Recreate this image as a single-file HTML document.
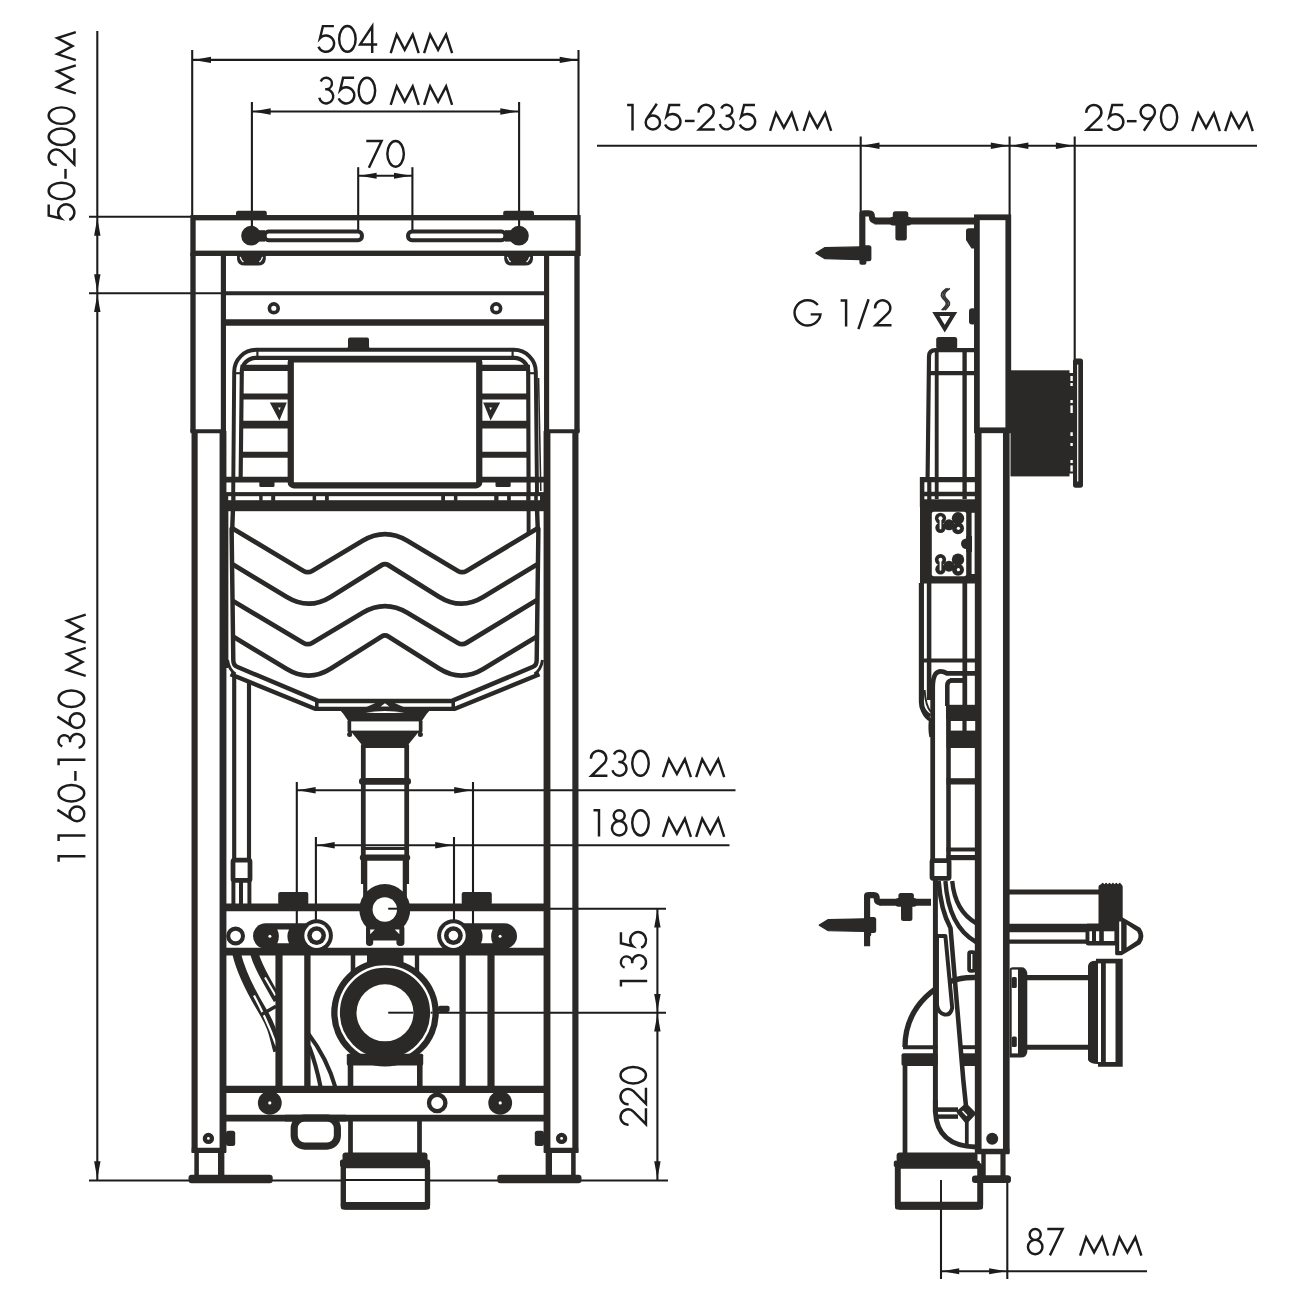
<!DOCTYPE html>
<html><head><meta charset="utf-8"><title>Installation frame drawing</title>
<style>html,body{margin:0;padding:0;background:#fff;font-family:"Liberation Sans",sans-serif}svg{display:block}</style></head>
<body><svg width="1300" height="1300" viewBox="0 0 1300 1300">
<rect width="1300" height="1300" fill="#fff"/>
<path d="M192.2 50L192.2 216" stroke="#1c1c1c" stroke-width="2.1" fill="none" stroke-linecap="butt"/>
<path d="M578.5 50L578.5 216" stroke="#1c1c1c" stroke-width="2.1" fill="none" stroke-linecap="butt"/>
<path d="M192.2 59.9L578.5 59.9" stroke="#1c1c1c" stroke-width="2.1" fill="none" stroke-linecap="butt"/>
<path d="M193.4 59.9L211 56.7L211 63.1Z" fill="#1c1c1c" stroke="none" stroke-width="0" stroke-linejoin="round" stroke-linecap="butt" />
<path d="M577.3 59.9L559.7 63.1L559.7 56.7Z" fill="#1c1c1c" stroke="none" stroke-width="0" stroke-linejoin="round" stroke-linecap="butt" />
<path d="M251.9 102L251.9 232" stroke="#1c1c1c" stroke-width="2.1" fill="none" stroke-linecap="butt"/>
<path d="M519.1 102L519.1 232" stroke="#1c1c1c" stroke-width="2.1" fill="none" stroke-linecap="butt"/>
<path d="M251.9 111.5L519.1 111.5" stroke="#1c1c1c" stroke-width="2.1" fill="none" stroke-linecap="butt"/>
<path d="M253.1 111.5L270.7 108.3L270.7 114.7Z" fill="#1c1c1c" stroke="none" stroke-width="0" stroke-linejoin="round" stroke-linecap="butt" />
<path d="M517.9 111.5L500.3 114.7L500.3 108.3Z" fill="#1c1c1c" stroke="none" stroke-width="0" stroke-linejoin="round" stroke-linecap="butt" />
<path d="M358.2 167.2L358.2 230.5" stroke="#1c1c1c" stroke-width="2.1" fill="none" stroke-linecap="butt"/>
<path d="M412.4 167.2L412.4 230.5" stroke="#1c1c1c" stroke-width="2.1" fill="none" stroke-linecap="butt"/>
<path d="M358.2 175.7L412.4 175.7" stroke="#1c1c1c" stroke-width="2.1" fill="none" stroke-linecap="butt"/>
<path d="M359.6 175.7L376.6 172.7L376.6 178.7Z" fill="#1c1c1c" stroke="none" stroke-width="0" stroke-linejoin="round" stroke-linecap="butt" />
<path d="M411 175.7L394 178.7L394 172.7Z" fill="#1c1c1c" stroke="none" stroke-width="0" stroke-linejoin="round" stroke-linecap="butt" />
<path d="M97.3 31L97.3 1180" stroke="#1c1c1c" stroke-width="2.1" fill="none" stroke-linecap="butt"/>
<path d="M89 216.8L192 216.8" stroke="#1c1c1c" stroke-width="2.1" fill="none" stroke-linecap="butt"/>
<path d="M89 293.2L221 293.2" stroke="#1c1c1c" stroke-width="2.1" fill="none" stroke-linecap="butt"/>
<path d="M89 1180.5L668 1180.5" stroke="#1c1c1c" stroke-width="2.1" fill="none" stroke-linecap="butt"/>
<path d="M97.3 218.1L100.5 235.7L94.1 235.7Z" fill="#1c1c1c" stroke="none" stroke-width="0" stroke-linejoin="round" stroke-linecap="butt" />
<path d="M97.3 291.9L94.1 274.3L100.5 274.3Z" fill="#1c1c1c" stroke="none" stroke-width="0" stroke-linejoin="round" stroke-linecap="butt" />
<path d="M97.3 294.5L100.5 312.1L94.1 312.1Z" fill="#1c1c1c" stroke="none" stroke-width="0" stroke-linejoin="round" stroke-linecap="butt" />
<path d="M97.3 1178.8L94.1 1161.2L100.5 1161.2Z" fill="#1c1c1c" stroke="none" stroke-width="0" stroke-linejoin="round" stroke-linecap="butt" />
<path d="M296.8 782L296.8 924" stroke="#1c1c1c" stroke-width="2.1" fill="none" stroke-linecap="butt"/>
<path d="M473 782L473 924" stroke="#1c1c1c" stroke-width="2.1" fill="none" stroke-linecap="butt"/>
<path d="M296.8 790.2L735.5 790.2" stroke="#1c1c1c" stroke-width="2.1" fill="none" stroke-linecap="butt"/>
<path d="M298 790.2L315.6 787L315.6 793.4Z" fill="#1c1c1c" stroke="none" stroke-width="0" stroke-linejoin="round" stroke-linecap="butt" />
<path d="M471.8 790.2L454.2 793.4L454.2 787Z" fill="#1c1c1c" stroke="none" stroke-width="0" stroke-linejoin="round" stroke-linecap="butt" />
<path d="M315.9 837L315.9 937" stroke="#1c1c1c" stroke-width="2.1" fill="none" stroke-linecap="butt"/>
<path d="M454 837L454 937" stroke="#1c1c1c" stroke-width="2.1" fill="none" stroke-linecap="butt"/>
<path d="M315.9 845.3L729.5 845.3" stroke="#1c1c1c" stroke-width="2.1" fill="none" stroke-linecap="butt"/>
<path d="M317.1 845.3L334.7 842.1L334.7 848.5Z" fill="#1c1c1c" stroke="none" stroke-width="0" stroke-linejoin="round" stroke-linecap="butt" />
<path d="M452.8 845.3L435.2 848.5L435.2 842.1Z" fill="#1c1c1c" stroke="none" stroke-width="0" stroke-linejoin="round" stroke-linecap="butt" />
<path d="M657.4 908.7L657.4 1180" stroke="#1c1c1c" stroke-width="2.1" fill="none" stroke-linecap="butt"/>
<path d="M385 908.7L666 908.7" stroke="#1c1c1c" stroke-width="2.1" fill="none" stroke-linecap="butt"/>
<path d="M388 1012.7L666 1012.7" stroke="#1c1c1c" stroke-width="2.1" fill="none" stroke-linecap="butt"/>
<path d="M657.4 909.9L660.6 927.5L654.2 927.5Z" fill="#1c1c1c" stroke="none" stroke-width="0" stroke-linejoin="round" stroke-linecap="butt" />
<path d="M657.4 1011.5L654.2 993.9L660.6 993.9Z" fill="#1c1c1c" stroke="none" stroke-width="0" stroke-linejoin="round" stroke-linecap="butt" />
<path d="M657.4 1013.9L660.6 1031.5L654.2 1031.5Z" fill="#1c1c1c" stroke="none" stroke-width="0" stroke-linejoin="round" stroke-linecap="butt" />
<path d="M657.4 1178.8L654.2 1161.2L660.6 1161.2Z" fill="#1c1c1c" stroke="none" stroke-width="0" stroke-linejoin="round" stroke-linecap="butt" />
<path d="M597 145.8L1257 145.8" stroke="#1c1c1c" stroke-width="2.1" fill="none" stroke-linecap="butt"/>
<path d="M860.7 136.5L860.7 213" stroke="#1c1c1c" stroke-width="2.1" fill="none" stroke-linecap="butt"/>
<path d="M1009.6 136.5L1009.6 216" stroke="#1c1c1c" stroke-width="2.1" fill="none" stroke-linecap="butt"/>
<path d="M1074.7 136.5L1074.7 359" stroke="#1c1c1c" stroke-width="2.1" fill="none" stroke-linecap="butt"/>
<path d="M861.9 145.8L879.5 142.6L879.5 149Z" fill="#1c1c1c" stroke="none" stroke-width="0" stroke-linejoin="round" stroke-linecap="butt" />
<path d="M1008.4 145.8L990.8 149L990.8 142.6Z" fill="#1c1c1c" stroke="none" stroke-width="0" stroke-linejoin="round" stroke-linecap="butt" />
<path d="M1010.8 145.8L1028.4 142.6L1028.4 149Z" fill="#1c1c1c" stroke="none" stroke-width="0" stroke-linejoin="round" stroke-linecap="butt" />
<path d="M1073.5 145.8L1055.9 149L1055.9 142.6Z" fill="#1c1c1c" stroke="none" stroke-width="0" stroke-linejoin="round" stroke-linecap="butt" />
<path d="M941 1271.3L1147 1271.3" stroke="#1c1c1c" stroke-width="2.1" fill="none" stroke-linecap="butt"/>
<path d="M941 1180L941 1279" stroke="#1c1c1c" stroke-width="2.1" fill="none" stroke-linecap="butt"/>
<path d="M1007.3 1183L1007.3 1279" stroke="#1c1c1c" stroke-width="2.1" fill="none" stroke-linecap="butt"/>
<path d="M942.2 1271.3L959.2 1268.3L959.2 1274.3Z" fill="#1c1c1c" stroke="none" stroke-width="0" stroke-linejoin="round" stroke-linecap="butt" />
<path d="M1006.1 1271.3L989.1 1274.3L989.1 1268.3Z" fill="#1c1c1c" stroke="none" stroke-width="0" stroke-linejoin="round" stroke-linecap="butt" />
<path d="M232.9 511L232.3 527L231.6 529L233.3 660Q233.3 665.3 237 666.8L318 700.9H452L533 666.8Q536.7 665.3 536.7 660L538.4 529L537.7 527L537.1 511" fill="#fff" stroke="#2a2927" stroke-width="4.45" stroke-linejoin="round" stroke-linecap="butt" />
<path d="M227.2 511L227.2 668" stroke="#2a2927" stroke-width="2.35" fill="none" stroke-linecap="butt"/>
<path d="M528.6 510L528.6 533" stroke="#2a2927" stroke-width="3.95" fill="none" stroke-linecap="butt"/>
<path d="M230.5 674.3L315 708.8H455L539.5 674.3" fill="none" stroke="#2a2927" stroke-width="4.35" stroke-linejoin="round" stroke-linecap="butt" />
<path d="M316.8 700V709.5" fill="none" stroke="#2a2927" stroke-width="3.55" stroke-linejoin="round" stroke-linecap="butt" />
<path d="M227.5 660Q229 670 235.5 674" fill="none" stroke="#2a2927" stroke-width="2.95" stroke-linejoin="round" stroke-linecap="butt" />
<path d="M453.2 700V709.5" fill="none" stroke="#2a2927" stroke-width="3.55" stroke-linejoin="round" stroke-linecap="butt" />
<path d="M542.5 660Q541 670 534.5 674" fill="none" stroke="#2a2927" stroke-width="2.95" stroke-linejoin="round" stroke-linecap="butt" />
<path d="M231 527.5L303.51 570.93Q307.8 573.5 312.1 570.94L362.66 540.81Q385 527.5 407.34 540.81L457.9 570.94Q462.2 573.5 466.49 570.93L539 527.5" fill="none" stroke="#2a2927" stroke-width="4.75" stroke-linejoin="round" stroke-linecap="butt" />
<path d="M233 564.5L286.76 597.04Q309 610.5 331.05 596.72L381.61 565.12Q385 563 388.39 565.12L438.95 596.72Q461 610.5 483.24 597.04L537 564.5" fill="none" stroke="#2a2927" stroke-width="4.75" stroke-linejoin="round" stroke-linecap="butt" />
<path d="M233 601L303.5 642.94Q307.8 645.5 312.1 642.94L362.66 612.81Q385 599.5 407.34 612.81L457.9 642.94Q462.2 645.5 466.47 642.9L537 600" fill="none" stroke="#2a2927" stroke-width="4.75" stroke-linejoin="round" stroke-linecap="butt" />
<path d="M233 636.5L286.76 669.04Q309 682.5 330.96 668.57L381.62 636.44Q385 634.3 388.38 636.44L439.04 668.57Q461 682.5 483.24 669.04L537 636.5" fill="none" stroke="#2a2927" stroke-width="4.75" stroke-linejoin="round" stroke-linecap="butt" />
<path d="M234.2 676L234.2 860" stroke="#2a2927" stroke-width="4.15" fill="none" stroke-linecap="butt"/>
<path d="M249 682L249 860" stroke="#2a2927" stroke-width="4.15" fill="none" stroke-linecap="butt"/>
<rect x="233" y="860.2" width="17" height="20.2" fill="#fff" stroke="#2a2927" stroke-width="4.75" rx="1.5"/>
<path d="M233.4 882L233.4 904" stroke="#2a2927" stroke-width="3.95" fill="none" stroke-linecap="butt"/>
<path d="M241 882L241 904" stroke="#2a2927" stroke-width="3.95" fill="none" stroke-linecap="butt"/>
<path d="M249.4 882L249.4 904" stroke="#2a2927" stroke-width="3.95" fill="none" stroke-linecap="butt"/>
<path d="M236.7 954C241 972 250 990 262 1010S273 1036 277.5 1051" fill="none" stroke="#2a2927" stroke-width="8.55" stroke-linejoin="round" stroke-linecap="butt" />
<path d="M254 995.4C258 1003 268 1022 276.5 1046" fill="none" stroke="#fff" stroke-width="2.2" stroke-linejoin="round" stroke-linecap="butt" />
<path d="M254.5 954C258 966 265 978 277.5 1000" fill="none" stroke="#2a2927" stroke-width="8.35" stroke-linejoin="round" stroke-linecap="butt" />
<path d="M265 977.5L275.5 995.5" fill="none" stroke="#fff" stroke-width="2" stroke-linejoin="round" stroke-linecap="butt" />
<path d="M260.7 1015L276 1006.3" fill="none" stroke="#2a2927" stroke-width="3.55" stroke-linejoin="round" stroke-linecap="butt" />
<path d="M309 1046Q316 1064 320.8 1088" fill="none" stroke="#2a2927" stroke-width="4.15" stroke-linejoin="round" stroke-linecap="butt" />
<path d="M308.5 1034Q327 1058 335.6 1088" fill="none" stroke="#2a2927" stroke-width="4.15" stroke-linejoin="round" stroke-linecap="butt" />
<rect x="193" y="217.7" width="385" height="35.6" fill="none" stroke="#2a2927" stroke-width="5.35" rx="0"/>
<path d="M193 253L193 432" stroke="#2a2927" stroke-width="5.35" fill="none" stroke-linecap="butt"/>
<path d="M223.4 253L223.4 432" stroke="#2a2927" stroke-width="5.15" fill="none" stroke-linecap="butt"/>
<path d="M190.5 431.3L225.8 431.3" stroke="#2a2927" stroke-width="3.95" fill="none" stroke-linecap="butt"/>
<path d="M194.6 431L194.6 1152.6" stroke="#2a2927" stroke-width="6.15" fill="none" stroke-linecap="butt"/>
<path d="M223 431L223 1152.6" stroke="#2a2927" stroke-width="6.85" fill="none" stroke-linecap="butt"/>
<path d="M191.7 1150.3L226 1150.3" stroke="#2a2927" stroke-width="5.35" fill="none" stroke-linecap="butt"/>
<path d="M196.6 1152L196.6 1177" stroke="#2a2927" stroke-width="4.55" fill="none" stroke-linecap="butt"/>
<path d="M221.2 1152L221.2 1177" stroke="#2a2927" stroke-width="6.35" fill="none" stroke-linecap="butt"/>
<rect x="188.5" y="1174.8" width="84.2" height="8.5" fill="#2a2927" stroke="none" stroke-width="0" rx="3"/>
<circle cx="208.4" cy="1138.4" r="3.55" fill="#fff" stroke="#2a2927" stroke-width="4.25"/>
<rect x="226" y="1130.8" width="9.2" height="15.2" fill="#2a2927" stroke="none" stroke-width="0" rx="2.5"/>
<path d="M577 253L577 432" stroke="#2a2927" stroke-width="5.35" fill="none" stroke-linecap="butt"/>
<path d="M546.6 253L546.6 432" stroke="#2a2927" stroke-width="5.15" fill="none" stroke-linecap="butt"/>
<path d="M579.5 431.3L544.2 431.3" stroke="#2a2927" stroke-width="3.95" fill="none" stroke-linecap="butt"/>
<path d="M575.4 431L575.4 1152.6" stroke="#2a2927" stroke-width="6.15" fill="none" stroke-linecap="butt"/>
<path d="M547 431L547 1152.6" stroke="#2a2927" stroke-width="6.85" fill="none" stroke-linecap="butt"/>
<path d="M578.3 1150.3L544 1150.3" stroke="#2a2927" stroke-width="5.35" fill="none" stroke-linecap="butt"/>
<path d="M573.4 1152L573.4 1177" stroke="#2a2927" stroke-width="4.55" fill="none" stroke-linecap="butt"/>
<path d="M548.8 1152L548.8 1177" stroke="#2a2927" stroke-width="6.35" fill="none" stroke-linecap="butt"/>
<rect x="497.3" y="1174.8" width="84.2" height="8.5" fill="#2a2927" stroke="none" stroke-width="0" rx="3"/>
<circle cx="561.6" cy="1138.4" r="3.55" fill="#fff" stroke="#2a2927" stroke-width="4.25"/>
<rect x="534.8" y="1130.8" width="9.2" height="15.2" fill="#2a2927" stroke="none" stroke-width="0" rx="2.5"/>
<path d="M223 293.2L547 293.2" stroke="#2a2927" stroke-width="4.15" fill="none" stroke-linecap="butt"/>
<path d="M223 322.4L547 322.4" stroke="#2a2927" stroke-width="6.55" fill="none" stroke-linecap="butt"/>
<circle cx="273.8" cy="308.3" r="4.4" fill="#fff" stroke="#2a2927" stroke-width="3.65"/>
<circle cx="496.2" cy="308.3" r="4.4" fill="#fff" stroke="#2a2927" stroke-width="3.65"/>
<rect x="264.65" y="231.45" width="97.3" height="8.9" fill="#fff" stroke="#2a2927" stroke-width="4.05" rx="4"/>
<rect x="256" y="230.2" width="9" height="11.4" fill="#2a2927" stroke="none" stroke-width="0" rx="0"/>
<circle cx="251.1" cy="235.7" r="9.9" fill="#2a2927" stroke="none" stroke-width="0"/>
<path d="M236 216.5V212.8Q236 210.8 238 210.8H264.8Q266.8 210.8 266.8 212.8V216.5Z" fill="#2a2927" stroke="none" stroke-width="4" stroke-linejoin="round" stroke-linecap="butt" />
<path d="M237 255V259Q237.5 265.6 245 265.6H257.8Q265.3 265.6 265.8 259V255Z" fill="#2a2927" stroke="none" stroke-width="4" stroke-linejoin="round" stroke-linecap="butt" />
<path d="M240.4 257.3Q241.2 260.3 243 261.6" fill="none" stroke="#fff" stroke-width="1.3" stroke-linejoin="round" stroke-linecap="round" />
<path d="M262.4 257.3Q261.6 260.3 259.8 261.6" fill="none" stroke="#fff" stroke-width="1.3" stroke-linejoin="round" stroke-linecap="round" />
<rect x="408.05" y="231.45" width="97.3" height="8.9" fill="#fff" stroke="#2a2927" stroke-width="4.05" rx="4"/>
<rect x="505" y="230.2" width="9" height="11.4" fill="#2a2927" stroke="none" stroke-width="0" rx="0"/>
<circle cx="518.9" cy="235.7" r="9.9" fill="#2a2927" stroke="none" stroke-width="0"/>
<path d="M503.2 216.5V212.8Q503.2 210.8 505.2 210.8H532Q534 210.8 534 212.8V216.5Z" fill="#2a2927" stroke="none" stroke-width="4" stroke-linejoin="round" stroke-linecap="butt" />
<path d="M504.2 255V259Q504.7 265.6 512.2 265.6H525Q532.5 265.6 533 259V255Z" fill="#2a2927" stroke="none" stroke-width="4" stroke-linejoin="round" stroke-linecap="butt" />
<path d="M507.6 257.3Q508.4 260.3 510.2 261.6" fill="none" stroke="#fff" stroke-width="1.3" stroke-linejoin="round" stroke-linecap="round" />
<path d="M529.6 257.3Q528.8 260.3 527 261.6" fill="none" stroke="#fff" stroke-width="1.3" stroke-linejoin="round" stroke-linecap="round" />
<path d="M233.2 493L234.2 372A22 22 0 0 1 256.2 349.8H513.8A22 22 0 0 1 535.8 372L537 493" fill="#fff" stroke="#2a2927" stroke-width="3.95" stroke-linejoin="round" stroke-linecap="butt" />
<path d="M345 349.8Q348 349 348 346V339.5Q348 337.4 350 337.4H367Q369 337.4 369 339.5V346Q369 349 372 349.8Z" fill="#2a2927" stroke="none" stroke-width="4" stroke-linejoin="round" stroke-linecap="butt" />
<path d="M538.6 378L540.8 491" fill="none" stroke="#2a2927" stroke-width="1.55" stroke-linejoin="round" stroke-linecap="butt" />
<path d="M240.6 482L241.8 372A14 14 0 0 1 255.8 357.8H514.2A14 14 0 0 1 528.2 372L528.6 493" fill="none" stroke="#2a2927" stroke-width="4.15" stroke-linejoin="round" stroke-linecap="butt" />
<path d="M235 373.2L241.5 373.2" stroke="#2a2927" stroke-width="2.15" fill="none" stroke-linecap="butt"/>
<path d="M528.5 373.2L535 373.2" stroke="#2a2927" stroke-width="2.15" fill="none" stroke-linecap="butt"/>
<path d="M257.4 351L257.4 357" stroke="#2a2927" stroke-width="2.15" fill="none" stroke-linecap="butt"/>
<path d="M512.6 351L512.6 357" stroke="#2a2927" stroke-width="2.15" fill="none" stroke-linecap="butt"/>
<path d="M240.5 367.9L288 367.9" stroke="#2a2927" stroke-width="6.15" fill="none" stroke-linecap="butt"/>
<path d="M481 367.9L530 367.9" stroke="#2a2927" stroke-width="6.15" fill="none" stroke-linecap="butt"/>
<path d="M240.5 396.5L288 396.5" stroke="#2a2927" stroke-width="6.15" fill="none" stroke-linecap="butt"/>
<path d="M481 396.5L530 396.5" stroke="#2a2927" stroke-width="6.15" fill="none" stroke-linecap="butt"/>
<path d="M240.5 424.5L288 424.5" stroke="#2a2927" stroke-width="7.75" fill="none" stroke-linecap="butt"/>
<path d="M481 424.5L530 424.5" stroke="#2a2927" stroke-width="7.75" fill="none" stroke-linecap="butt"/>
<path d="M240.5 454.8L288 454.8" stroke="#2a2927" stroke-width="5.95" fill="none" stroke-linecap="butt"/>
<path d="M481 454.8L530 454.8" stroke="#2a2927" stroke-width="5.95" fill="none" stroke-linecap="butt"/>
<path d="M225 479.7L288 479.7" stroke="#2a2927" stroke-width="5.75" fill="none" stroke-linecap="butt"/>
<path d="M481 479.7L545 479.7" stroke="#2a2927" stroke-width="5.75" fill="none" stroke-linecap="butt"/>
<rect x="290.75" y="359.25" width="188.5" height="126" fill="#fff" stroke="#2a2927" stroke-width="6.25" rx="3"/>
<path d="M483.2 402.4L500.2 402.4L490.6 420.4Z" fill="#2a2927" stroke="none" stroke-width="0" stroke-linejoin="round" stroke-linecap="butt" />
<path d="M489.3 407.6L491.9 407.6L490.6 410.2Z" fill="#fff" stroke="none" stroke-width="0" stroke-linejoin="round" stroke-linecap="butt" />
<rect x="259.3" y="481" width="15.2" height="6" fill="#2a2927" stroke="none" stroke-width="0" rx="1.5"/>
<path d="M286.8 402.4L269.8 402.4L279.4 420.4Z" fill="#2a2927" stroke="none" stroke-width="0" stroke-linejoin="round" stroke-linecap="butt" />
<path d="M280.7 407.6L278.1 407.6L279.4 410.2Z" fill="#fff" stroke="none" stroke-width="0" stroke-linejoin="round" stroke-linecap="butt" />
<rect x="495.5" y="481" width="15.2" height="6" fill="#2a2927" stroke="none" stroke-width="0" rx="1.5"/>
<rect x="224" y="492.1" width="322" height="19.1" fill="#2a2927" stroke="none" stroke-width="0" rx="0"/>
<rect x="228.2" y="496.2" width="311.8" height="4" fill="#fff" stroke="none" stroke-width="0" rx="0"/>
<rect x="231.2" y="495.8" width="4.3" height="5" fill="#2a2927" stroke="none" stroke-width="0" rx="0"/>
<rect x="259.2" y="495.8" width="3.4" height="5" fill="#2a2927" stroke="none" stroke-width="0" rx="0"/>
<rect x="271.2" y="495.8" width="4" height="5" fill="#2a2927" stroke="none" stroke-width="0" rx="0"/>
<rect x="312.6" y="495.8" width="3.5" height="5" fill="#2a2927" stroke="none" stroke-width="0" rx="0"/>
<rect x="325" y="495.8" width="3.8" height="5" fill="#2a2927" stroke="none" stroke-width="0" rx="0"/>
<rect x="441.2" y="495.8" width="3.8" height="5" fill="#2a2927" stroke="none" stroke-width="0" rx="0"/>
<rect x="453.9" y="495.8" width="3.5" height="5" fill="#2a2927" stroke="none" stroke-width="0" rx="0"/>
<rect x="494.2" y="495.8" width="4.3" height="5" fill="#2a2927" stroke="none" stroke-width="0" rx="0"/>
<rect x="507.1" y="495.8" width="3.7" height="5" fill="#2a2927" stroke="none" stroke-width="0" rx="0"/>
<rect x="526.2" y="495.8" width="4.3" height="5" fill="#2a2927" stroke="none" stroke-width="0" rx="0"/>
<rect x="534.2" y="495.8" width="3.6" height="5" fill="#2a2927" stroke="none" stroke-width="0" rx="0"/>
<path d="M362 709L383.2 699.6L386.8 699.6L408 709Z" fill="#2a2927" stroke="none" stroke-width="0" stroke-linejoin="round" stroke-linecap="butt" />
<path d="M380.6 706.6L389.4 706.6L385 703.3Z" fill="#fff" stroke="none" stroke-width="0" stroke-linejoin="round" stroke-linecap="butt" />
<path d="M339.5 709.5H430.5Q426 714 422.5 720H347.5Q344 714 339.5 709.5Z" fill="#2a2927" stroke="none" stroke-width="4" stroke-linejoin="round" stroke-linecap="butt" />
<path d="M365.5 712.6Q385 709.6 404.5 712.6Q385 713.6 365.5 712.6Z" fill="#fff" stroke="none" stroke-width="4" stroke-linejoin="round" stroke-linecap="butt" />
<rect x="347.5" y="719.3" width="75" height="13.7" fill="#2a2927" stroke="none" stroke-width="0" rx="2"/>
<rect x="351.2" y="721.4" width="67.6" height="9.2" fill="#fff" stroke="none" stroke-width="0" rx="0"/>
<circle cx="349.6" cy="734.6" r="2.5" fill="#2a2927" stroke="none" stroke-width="0"/>
<circle cx="420.4" cy="734.6" r="2.5" fill="#2a2927" stroke="none" stroke-width="0"/>
<path d="M351.8 732.5L418.2 732.5L408.8 744L408.8 748L361.2 748L361.2 744Z" fill="#2a2927" stroke="none" stroke-width="0" stroke-linejoin="round" stroke-linecap="butt" />
<path d="M363.3 745L363.3 884" stroke="#2a2927" stroke-width="4.75" fill="none" stroke-linecap="butt"/>
<path d="M406.7 745L406.7 884" stroke="#2a2927" stroke-width="4.75" fill="none" stroke-linecap="butt"/>
<rect x="359" y="778.1" width="52" height="6.7" fill="#2a2927" stroke="none" stroke-width="0" rx="3.2"/>
<path d="M361.2 848.5L408.8 848.5" stroke="#2a2927" stroke-width="3.15" fill="none" stroke-linecap="butt"/>
<rect x="359.8" y="854.6" width="50.4" height="6.2" fill="#2a2927" stroke="none" stroke-width="0" rx="3"/>
<path d="M225 907.3L545 907.3" stroke="#2a2927" stroke-width="7.85" fill="none" stroke-linecap="butt"/>
<path d="M225 951.6L545 951.6" stroke="#2a2927" stroke-width="7.85" fill="none" stroke-linecap="butt"/>
<path d="M225 1089.4L545 1089.4" stroke="#2a2927" stroke-width="7.15" fill="none" stroke-linecap="butt"/>
<path d="M225 1118L545 1118" stroke="#2a2927" stroke-width="6.75" fill="none" stroke-linecap="butt"/>
<rect x="278.2" y="892" width="30.1" height="13" fill="#2a2927" stroke="none" stroke-width="0" rx="2"/>
<path d="M279 955L279 1086" stroke="#2a2927" stroke-width="7.15" fill="none" stroke-linecap="butt"/>
<path d="M307.4 955L307.4 1086" stroke="#2a2927" stroke-width="6.35" fill="none" stroke-linecap="butt"/>
<rect x="253" y="923.3" width="65" height="25.4" fill="#2a2927" stroke="none" stroke-width="0" rx="12.7"/>
<circle cx="316.6" cy="935.6" r="16.3" fill="#2a2927" stroke="none" stroke-width="0"/>
<circle cx="316.6" cy="935.6" r="12.3" fill="#fff" stroke="none" stroke-width="0"/>
<circle cx="316.6" cy="935.6" r="9.4" fill="#2a2927" stroke="none" stroke-width="0"/>
<circle cx="316.6" cy="935.6" r="4.8" fill="#fff" stroke="none" stroke-width="0"/>
<circle cx="269.9" cy="936.2" r="1.5" fill="#fff" stroke="none" stroke-width="0"/>
<path d="M277.3 929.5H289Q285.72 936.3 289 943.2H277.3Q280.58 936.3 277.3 929.5Z" fill="#fff" stroke="none" stroke-width="4" stroke-linejoin="round" stroke-linecap="butt" />
<circle cx="269.8" cy="1102.9" r="11.9" fill="#2a2927" stroke="none" stroke-width="0"/>
<circle cx="269.8" cy="1102.9" r="1.6" fill="#fff" stroke="none" stroke-width="0"/>
<rect x="461.7" y="892" width="30.1" height="13" fill="#2a2927" stroke="none" stroke-width="0" rx="2"/>
<path d="M491 955L491 1086" stroke="#2a2927" stroke-width="7.15" fill="none" stroke-linecap="butt"/>
<path d="M462.6 955L462.6 1086" stroke="#2a2927" stroke-width="6.35" fill="none" stroke-linecap="butt"/>
<rect x="452" y="923.3" width="65" height="25.4" fill="#2a2927" stroke="none" stroke-width="0" rx="12.7"/>
<circle cx="453.4" cy="935.6" r="16.3" fill="#2a2927" stroke="none" stroke-width="0"/>
<circle cx="453.4" cy="935.6" r="12.3" fill="#fff" stroke="none" stroke-width="0"/>
<circle cx="453.4" cy="935.6" r="9.4" fill="#2a2927" stroke="none" stroke-width="0"/>
<circle cx="453.4" cy="935.6" r="4.8" fill="#fff" stroke="none" stroke-width="0"/>
<circle cx="500.1" cy="936.2" r="1.5" fill="#fff" stroke="none" stroke-width="0"/>
<path d="M492.7 929.5H481Q484.28 936.3 481 943.2H492.7Q489.42 936.3 492.7 929.5Z" fill="#fff" stroke="none" stroke-width="4" stroke-linejoin="round" stroke-linecap="butt" />
<circle cx="500.2" cy="1102.9" r="11.9" fill="#2a2927" stroke="none" stroke-width="0"/>
<circle cx="500.2" cy="1102.9" r="1.6" fill="#fff" stroke="none" stroke-width="0"/>
<circle cx="235.6" cy="936" r="7.4" fill="#fff" stroke="#2a2927" stroke-width="4.05"/>
<circle cx="437.2" cy="1102.9" r="8.2" fill="#fff" stroke="#2a2927" stroke-width="4.35"/>
<rect x="294.2" y="1118" width="43.2" height="28.1" fill="#fff" stroke="#2a2927" stroke-width="7.15" rx="10.5"/>
<path d="M285 1118L346 1118" stroke="#2a2927" stroke-width="6.75" fill="none" stroke-linecap="butt"/>
<path d="M365.2 860L365.2 900" stroke="#2a2927" stroke-width="4.15" fill="none" stroke-linecap="butt"/>
<path d="M404.8 860L404.8 900" stroke="#2a2927" stroke-width="4.15" fill="none" stroke-linecap="butt"/>
<circle cx="384.8" cy="909.5" r="25.5" fill="#2a2927" stroke="none" stroke-width="0"/>
<circle cx="384.8" cy="909.5" r="12.2" fill="#fff" stroke="none" stroke-width="0"/>
<path d="M388.2 908.7L397 908.7" stroke="#1c1c1c" stroke-width="1.95" fill="none" stroke-linecap="butt"/>
<rect x="366" y="925" width="7.2" height="21" fill="#2a2927" stroke="none" stroke-width="0" rx="3.4"/>
<rect x="396.4" y="925" width="8" height="21" fill="#2a2927" stroke="none" stroke-width="0" rx="3.4"/>
<rect x="372" y="925" width="26" height="15.5" fill="#2a2927" stroke="none" stroke-width="0" rx="0"/>
<path d="M370.2 929.5L374.8 929.5L370.2 934.2Z" fill="#fff" stroke="none" stroke-width="0" stroke-linejoin="round" stroke-linecap="butt" />
<path d="M399.4 929.5L394.8 929.5L399.4 934.2Z" fill="#fff" stroke="none" stroke-width="0" stroke-linejoin="round" stroke-linecap="butt" />
<rect x="367" y="955" width="36.5" height="9" fill="#2a2927" stroke="none" stroke-width="0" rx="0"/>
<path d="M353 955L353 975" stroke="#2a2927" stroke-width="4.55" fill="none" stroke-linecap="butt"/>
<path d="M417 955L417 975" stroke="#2a2927" stroke-width="4.35" fill="none" stroke-linecap="butt"/>
<circle cx="385" cy="1012.8" r="53.8" fill="#2a2927" stroke="none" stroke-width="0"/>
<circle cx="385" cy="1012.8" r="46.3" fill="none" stroke="#fff" stroke-width="2.4"/>
<circle cx="385" cy="1012.8" r="28.5" fill="#fff" stroke="none" stroke-width="0"/>
<path d="M388.2 1012.7L413.4 1012.7" stroke="#1c1c1c" stroke-width="1.95" fill="none" stroke-linecap="butt"/>
<path d="M430.6 1012.7L432.6 1012.7" stroke="#1c1c1c" stroke-width="1.95" fill="none" stroke-linecap="butt"/>
<rect x="438" y="1005.8" width="11.6" height="6.1" fill="#2a2927" stroke="none" stroke-width="0" rx="2"/>
<rect x="346.8" y="1053.8" width="76.4" height="11.8" fill="#2a2927" stroke="none" stroke-width="0" rx="1.5"/>
<path d="M350.5 1065L350.5 1086" stroke="#2a2927" stroke-width="5.55" fill="none" stroke-linecap="butt"/>
<path d="M419.8 1065L419.8 1086" stroke="#2a2927" stroke-width="5.55" fill="none" stroke-linecap="butt"/>
<path d="M350.5 1121L350.5 1154" stroke="#2a2927" stroke-width="4.75" fill="none" stroke-linecap="butt"/>
<path d="M419.5 1121L419.5 1154" stroke="#2a2927" stroke-width="4.75" fill="none" stroke-linecap="butt"/>
<rect x="342.5" y="1152.6" width="85" height="9.4" fill="#2a2927" stroke="none" stroke-width="0" rx="3"/>
<rect x="340" y="1159.5" width="90" height="7.7" fill="#2a2927" stroke="none" stroke-width="0" rx="2"/>
<rect x="343.3" y="1165.5" width="84.2" height="41.5" fill="#fff" stroke="#2a2927" stroke-width="5.35" rx="2"/>
<rect x="340.8" y="1202" width="89.2" height="7.5" fill="#2a2927" stroke="none" stroke-width="0" rx="2"/>
<path d="M345 1180L425 1180" stroke="#1c1c1c" stroke-width="1.95" fill="none" stroke-linecap="butt"/>
<rect x="976.9" y="217.3" width="31.4" height="213" fill="#fff" stroke="#2a2927" stroke-width="5.75" rx="0"/>
<path d="M978.2 431L978.2 1153" stroke="#2a2927" stroke-width="6.75" fill="none" stroke-linecap="butt"/>
<path d="M1006.3 431L1006.3 1153" stroke="#2a2927" stroke-width="6.65" fill="none" stroke-linecap="butt"/>
<path d="M975 1151.5L1009.5 1151.5" stroke="#2a2927" stroke-width="5.35" fill="none" stroke-linecap="butt"/>
<path d="M983.5 1153L983.5 1177" stroke="#2a2927" stroke-width="3.95" fill="none" stroke-linecap="butt"/>
<path d="M1003 1153L1003 1177" stroke="#2a2927" stroke-width="5.15" fill="none" stroke-linecap="butt"/>
<rect x="972" y="1175.4" width="38.8" height="7.6" fill="#2a2927" stroke="none" stroke-width="0" rx="3"/>
<circle cx="992.2" cy="1138.7" r="6" fill="#2a2927" stroke="none" stroke-width="0"/>
<path d="M975 228.3H969Q966 228.3 966 231V240L971.5 248.5H975Z" fill="#2a2927" stroke="none" stroke-width="4" stroke-linejoin="round" stroke-linecap="butt" />
<rect x="969" y="308.2" width="7" height="16.2" fill="#2a2927" stroke="none" stroke-width="0" rx="3"/>
<path d="M862.3 247V213.8Q862.3 213.4 864.4 213.4H868.9Q871.9 213.4 871.9 216.8Q871.9 221 876.4 221" fill="none" stroke="#2a2927" stroke-width="6.15" stroke-linejoin="round" stroke-linecap="butt" />
<path d="M874.4 221L975 221" stroke="#2a2927" stroke-width="6.95" fill="none" stroke-linecap="butt"/>
<rect x="892.8" y="211.3" width="15.5" height="12.7" fill="#2a2927" stroke="none" stroke-width="0" rx="2.5"/>
<rect x="889.8" y="216.8" width="21.5" height="8.6" fill="#2a2927" stroke="none" stroke-width="0" rx="3"/>
<rect x="895.4" y="221" width="11.4" height="19.5" fill="#2a2927" stroke="none" stroke-width="0" rx="2.5"/>
<path d="M816 253.2L825 247.7L860.4 246.9V259.5L825 258.7Z" fill="#2a2927" stroke="#2a2927" stroke-width="1.35" stroke-linejoin="round" stroke-linecap="butt" />
<rect x="859.4" y="245.2" width="12" height="16" fill="#2a2927" stroke="none" stroke-width="0" rx="2.5"/>
<rect x="859.4" y="257.2" width="7" height="7.5" fill="#2a2927" stroke="none" stroke-width="0" rx="2"/>
<path d="M867.1 946.3V895.5Q867.1 895.1 869.2 895.1H873.7Q876.7 895.1 876.7 898.5Q876.7 902.3 881.2 902.3" fill="none" stroke="#2a2927" stroke-width="6.15" stroke-linejoin="round" stroke-linecap="butt" />
<path d="M879.2 902.3L931 902.3" stroke="#2a2927" stroke-width="6.95" fill="none" stroke-linecap="butt"/>
<rect x="898.4" y="893" width="15.5" height="12.3" fill="#2a2927" stroke="none" stroke-width="0" rx="2.5"/>
<rect x="895.4" y="898.1" width="21.5" height="8.6" fill="#2a2927" stroke="none" stroke-width="0" rx="3"/>
<rect x="901" y="902.3" width="11.4" height="18.7" fill="#2a2927" stroke="none" stroke-width="0" rx="2.5"/>
<path d="M819.3 925.1L828.3 919.6L865.2 918.8V931.4L828.3 930.6Z" fill="#2a2927" stroke="#2a2927" stroke-width="1.35" stroke-linejoin="round" stroke-linecap="butt" />
<rect x="864.2" y="917.1" width="12" height="16" fill="#2a2927" stroke="none" stroke-width="0" rx="2.5"/>
<rect x="864.2" y="929.1" width="7" height="7.5" fill="#2a2927" stroke="none" stroke-width="0" rx="2"/>
<path d="M935.8 313.9H953.7L944.75 328.7Z" fill="none" stroke="#2a2927" stroke-width="4" stroke-linejoin="miter" stroke-linecap="butt" />
<path d="M946.7 288.3C941.4 292 940 295 942.6 298C945.2 301.2 948.2 303 945 306.5C943.9 308 942.7 309.2 941.6 310" fill="none" stroke="#333230" stroke-width="1.55" stroke-linejoin="round" stroke-linecap="butt" />
<path d="M948.3 288.3C943 292 941.6 295 944.2 298C946.8 301.2 949.8 303 946.6 306.5C945.5 308 944.3 309.2 943.2 310" fill="none" stroke="#333230" stroke-width="1.55" stroke-linejoin="round" stroke-linecap="butt" />
<path d="M949.9 288.3C944.6 292 943.2 295 945.8 298C948.4 301.2 951.4 303 948.2 306.5C947.1 308 945.9 309.2 944.8 310" fill="none" stroke="#333230" stroke-width="1.55" stroke-linejoin="round" stroke-linecap="butt" />
<rect x="936.2" y="337" width="21" height="12" fill="#2a2927" stroke="none" stroke-width="0" rx="2.5"/>
<path d="M975 350.1H935.5Q929 350.1 929 356.6L927.6 478" fill="none" stroke="#2a2927" stroke-width="4.15" stroke-linejoin="round" stroke-linecap="butt" />
<path d="M936.7 350L936.7 499" stroke="#2a2927" stroke-width="3.85" fill="none" stroke-linecap="butt"/>
<path d="M964.6 350L964.6 499" stroke="#2a2927" stroke-width="4.35" fill="none" stroke-linecap="butt"/>
<path d="M928.5 373L975 373" stroke="#2a2927" stroke-width="4.25" fill="none" stroke-linecap="butt"/>
<path d="M922.1 477.2L922.1 507" stroke="#2a2927" stroke-width="4.55" fill="none" stroke-linecap="butt"/>
<path d="M920 479.6L975 479.6" stroke="#2a2927" stroke-width="5.15" fill="none" stroke-linecap="butt"/>
<path d="M920 493.9L975 493.9" stroke="#2a2927" stroke-width="4.55" fill="none" stroke-linecap="butt"/>
<rect x="920" y="499.3" width="56" height="8.3" fill="#2a2927" stroke="none" stroke-width="0" rx="0"/>
<path d="M929.3 478L929.3 500" stroke="#2a2927" stroke-width="4.15" fill="none" stroke-linecap="butt"/>
<rect x="920" y="507" width="61" height="76.5" fill="#2a2927" stroke="none" stroke-width="0" rx="0"/>
<rect x="931.8" y="511.7" width="34.4" height="64.6" fill="#fff" stroke="none" stroke-width="0" rx="2"/>
<rect x="971.6" y="512.8" width="3" height="61.2" fill="#fff" stroke="none" stroke-width="0" rx="0"/>
<circle cx="940.5" cy="518.3" r="5.6" fill="#2a2927" stroke="none" stroke-width="0"/>
<circle cx="940.5" cy="527.8" r="5.2" fill="#2a2927" stroke="none" stroke-width="0"/>
<circle cx="958" cy="518.3" r="6.2" fill="#2a2927" stroke="none" stroke-width="0"/>
<circle cx="958" cy="528.3" r="6" fill="#2a2927" stroke="none" stroke-width="0"/>
<circle cx="949" cy="524.8" r="5.5" fill="#2a2927" stroke="none" stroke-width="0"/>
<circle cx="940.5" cy="518.3" r="2" fill="#fff" stroke="none" stroke-width="0"/>
<rect x="939.6" y="518.3" width="1.8" height="11" fill="#fff" stroke="none" stroke-width="0" rx="0.9"/>
<circle cx="958.4" cy="528.3" r="1.6" fill="#fff" stroke="none" stroke-width="0"/>
<circle cx="940.5" cy="559.7" r="5.6" fill="#2a2927" stroke="none" stroke-width="0"/>
<circle cx="940.5" cy="569.2" r="5.2" fill="#2a2927" stroke="none" stroke-width="0"/>
<circle cx="958" cy="559.7" r="6.2" fill="#2a2927" stroke="none" stroke-width="0"/>
<circle cx="958" cy="569.7" r="6" fill="#2a2927" stroke="none" stroke-width="0"/>
<circle cx="949" cy="566.2" r="5.5" fill="#2a2927" stroke="none" stroke-width="0"/>
<circle cx="940.5" cy="559.7" r="2" fill="#fff" stroke="none" stroke-width="0"/>
<rect x="939.6" y="559.7" width="1.8" height="11" fill="#fff" stroke="none" stroke-width="0" rx="0.9"/>
<circle cx="958.4" cy="569.7" r="1.6" fill="#fff" stroke="none" stroke-width="0"/>
<circle cx="966.2" cy="543.8" r="5.2" fill="#2a2927" stroke="none" stroke-width="0"/>
<rect x="966.2" y="536" width="5.8" height="16" fill="#2a2927" stroke="none" stroke-width="0" rx="0"/>
<path d="M921.4 583V702Q921.4 712 930 716.5" fill="none" stroke="#2a2927" stroke-width="5.15" stroke-linejoin="round" stroke-linecap="butt" />
<path d="M924.6 690Q925.5 706 931 712" fill="none" stroke="#2a2927" stroke-width="1.95" stroke-linejoin="round" stroke-linecap="butt" />
<path d="M929.1 583L929.1 700" stroke="#2a2927" stroke-width="4.55" fill="none" stroke-linecap="butt"/>
<path d="M964.8 583L964.8 706" stroke="#2a2927" stroke-width="4.75" fill="none" stroke-linecap="butt"/>
<path d="M923 660.5L976 660.5" stroke="#2a2927" stroke-width="4.05" fill="none" stroke-linecap="butt"/>
<path d="M976 673.4H947Q939.5 669 935.5 674Q932.7 678 932.7 688V860" fill="none" stroke="#2a2927" stroke-width="4.75" stroke-linejoin="round" stroke-linecap="butt" />
<path d="M967 680.4H952Q947.3 680.4 947.3 686V706" fill="none" stroke="#2a2927" stroke-width="4.55" stroke-linejoin="round" stroke-linecap="butt" />
<path d="M950 680.4L967 680.4" stroke="#2a2927" stroke-width="4.55" fill="none" stroke-linecap="butt"/>
<rect x="946" y="704.8" width="30" height="14.2" fill="#2a2927" stroke="none" stroke-width="0" rx="0"/>
<path d="M921.4 700Q921.6 716 930.5 720Q929.5 730 931 737" fill="none" stroke="#2a2927" stroke-width="3.35" stroke-linejoin="round" stroke-linecap="butt" />
<path d="M948.5 705L948.5 860" stroke="#2a2927" stroke-width="4.55" fill="none" stroke-linecap="butt"/>
<rect x="946.5" y="719" width="29.5" height="29" fill="#2a2927" stroke="none" stroke-width="0" rx="0"/>
<rect x="950.8" y="721" width="11.6" height="9.6" fill="#fff" stroke="none" stroke-width="0" rx="0"/>
<rect x="966.6" y="721" width="8.6" height="9.6" fill="#fff" stroke="none" stroke-width="0" rx="0"/>
<rect x="946.5" y="778.2" width="29.5" height="6.3" fill="#2a2927" stroke="none" stroke-width="0" rx="0"/>
<path d="M946.5 849.5L976 849.5" stroke="#2a2927" stroke-width="3.95" fill="none" stroke-linecap="butt"/>
<rect x="946.5" y="855" width="29.5" height="5.2" fill="#2a2927" stroke="none" stroke-width="0" rx="0"/>
<rect x="932" y="860.7" width="17.1" height="17.6" fill="#fff" stroke="#2a2927" stroke-width="4.75" rx="1"/>
<rect x="1010.5" y="370.3" width="59" height="106.1" fill="#2a2927" stroke="none" stroke-width="0" rx="0"/>
<rect x="1067" y="373" width="8" height="100.5" fill="#2a2927" stroke="none" stroke-width="0" rx="0"/>
<rect x="1070.4" y="376" width="2.4" height="5" fill="#fff" stroke="none" stroke-width="0" rx="0"/>
<rect x="1070.4" y="383" width="2.4" height="3" fill="#fff" stroke="none" stroke-width="0" rx="0"/>
<rect x="1070.4" y="400" width="2.4" height="3" fill="#fff" stroke="none" stroke-width="0" rx="0"/>
<rect x="1070.4" y="405.4" width="2.4" height="7.6" fill="#fff" stroke="none" stroke-width="0" rx="0"/>
<rect x="1070.4" y="432.3" width="2.4" height="3.7" fill="#fff" stroke="none" stroke-width="0" rx="0"/>
<rect x="1070.4" y="443" width="2.4" height="3" fill="#fff" stroke="none" stroke-width="0" rx="0"/>
<rect x="1070.4" y="460" width="2.4" height="3" fill="#fff" stroke="none" stroke-width="0" rx="0"/>
<rect x="1070.4" y="465.4" width="2.4" height="6.1" fill="#fff" stroke="none" stroke-width="0" rx="0"/>
<rect x="1073" y="358.5" width="10" height="129.2" fill="#2a2927" stroke="none" stroke-width="0" rx="2.6"/>
<rect x="1077.1" y="364.6" width="1.2" height="116.9" fill="#fff" stroke="none" stroke-width="0" rx="0"/>
<path d="M1009 892L1099 892" stroke="#2a2927" stroke-width="4.85" fill="none" stroke-linecap="butt"/>
<path d="M1009 928L1088 928" stroke="#2a2927" stroke-width="8.35" fill="none" stroke-linecap="butt"/>
<path d="M1009 941.7L1088 941.7" stroke="#2a2927" stroke-width="4.25" fill="none" stroke-linecap="butt"/>
<rect x="1098.5" y="884.5" width="24.2" height="41.5" fill="#2a2927" stroke="none" stroke-width="0" rx="2.5"/>
<path d="M1101 885.5l1.7 -2l1.7 2l1.7 -2l1.7 2l1.7 -2l1.7 2l1.7 -2l1.7 2l1.7 -2l1.7 2l1.7 -2l1.7 2" fill="#2a2927" stroke="#2a2927" stroke-width="1.35" stroke-linejoin="round" stroke-linecap="butt" />
<rect x="1085.5" y="923.5" width="32.5" height="22" fill="#2a2927" stroke="none" stroke-width="0" rx="3"/>
<rect x="1089.4" y="931.3" width="2.6" height="9.7" fill="#fff" stroke="none" stroke-width="0" rx="0"/>
<rect x="1096" y="931.3" width="3.2" height="9.7" fill="#fff" stroke="none" stroke-width="0" rx="0"/>
<rect x="1103.8" y="931.3" width="10.6" height="9.7" fill="#fff" stroke="none" stroke-width="0" rx="0"/>
<path d="M1116.5 918.5H1121.5L1139.5 929Q1144.5 936 1139.5 943L1121.5 953.8H1116.5Z" fill="#2a2927" stroke="#2a2927" stroke-width="2.75" stroke-linejoin="round" stroke-linecap="butt" />
<path d="M1126.6 924.6L1137 931.5Q1140 936 1137 940.6L1126.6 947.6Z" fill="#fff" stroke="none" stroke-width="4" stroke-linejoin="round" stroke-linecap="butt" />
<rect x="1119.2" y="921.5" width="2" height="29.5" fill="#fff" stroke="none" stroke-width="0" rx="0"/>
<path d="M1009.6 1057.5V970Q1009.6 967.2 1013 967.2H1021.5Q1026 967.2 1027.3 973V1052Q1026.5 1057.5 1021 1057.5Z" fill="#2a2927" stroke="none" stroke-width="4" stroke-linejoin="round" stroke-linecap="butt" />
<rect x="1011.7" y="969.6" width="6.3" height="83.8" fill="#fff" stroke="none" stroke-width="0" rx="0"/>
<rect x="1011.7" y="977" width="5.1" height="11" fill="#2a2927" stroke="none" stroke-width="0" rx="1.5"/>
<rect x="1011.7" y="1036.5" width="5.1" height="10.5" fill="#2a2927" stroke="none" stroke-width="0" rx="1.5"/>
<path d="M1026 977.6L1090 977.6" stroke="#2a2927" stroke-width="5.35" fill="none" stroke-linecap="butt"/>
<path d="M1026 1047.3L1090 1047.3" stroke="#2a2927" stroke-width="5.05" fill="none" stroke-linecap="butt"/>
<path d="M1088 1062V966Q1088.5 960.8 1096 960.8V958.7H1122.7V1066.7H1098V1064Q1090 1064 1088 1060Z" fill="#2a2927" stroke="none" stroke-width="4" stroke-linejoin="round" stroke-linecap="butt" />
<rect x="1098" y="963.4" width="3" height="98.6" fill="#fff" stroke="none" stroke-width="0" rx="0"/>
<rect x="1105.8" y="963.4" width="9.7" height="98.6" fill="#fff" stroke="none" stroke-width="0" rx="0"/>
<path d="M975 977.5A68 69.5 0 0 0 905 1047" fill="none" stroke="#2a2927" stroke-width="5.35" stroke-linejoin="round" stroke-linecap="butt" />
<path d="M903 1047.2L937.5 1047.2" stroke="#2a2927" stroke-width="3.95" fill="none" stroke-linecap="butt"/>
<path d="M961.7 1047.2L976 1047.2" stroke="#2a2927" stroke-width="3.95" fill="none" stroke-linecap="butt"/>
<rect x="901.5" y="1053.3" width="36.2" height="12.7" fill="#2a2927" stroke="none" stroke-width="0" rx="2"/>
<rect x="961.7" y="1053.3" width="14.3" height="12.7" fill="#2a2927" stroke="none" stroke-width="0" rx="0"/>
<path d="M905 1066L905 1153" stroke="#2a2927" stroke-width="4.75" fill="none" stroke-linecap="butt"/>
<path d="M935.4 880L935.4 1112" stroke="#2a2927" stroke-width="4.95" fill="none" stroke-linecap="butt"/>
<path d="M937 936H945.4L952.2 1008Q950.5 1015.5 944.5 1014.5Q938.5 1013.5 937 1005Z" fill="#fff" stroke="#2a2927" stroke-width="3.95" stroke-linejoin="round" stroke-linecap="butt" />
<path d="M945.4 881C947 905 955 930 976 942" fill="none" stroke="#2a2927" stroke-width="4.35" stroke-linejoin="round" stroke-linecap="butt" />
<path d="M952.2 881C954 900 962 915 976 923" fill="none" stroke="#2a2927" stroke-width="4.35" stroke-linejoin="round" stroke-linecap="butt" />
<path d="M938.6 881C940 900 945 918 950.5 928L963.3 1080L966 1106" fill="none" stroke="#2a2927" stroke-width="4.55" stroke-linejoin="round" stroke-linecap="butt" />
<rect x="969.1" y="952.2" width="5.2" height="18.6" fill="#fff" stroke="#2a2927" stroke-width="3.75" rx="1.5"/>
<path d="M935.4 1100V1112Q937 1146 976 1147" fill="none" stroke="#2a2927" stroke-width="4.95" stroke-linejoin="round" stroke-linecap="butt" />
<path d="M937 1109.6L958 1109.6" stroke="#2a2927" stroke-width="4.55" fill="none" stroke-linecap="butt"/>
<path d="M937 1116.6L958 1116.6" stroke="#2a2927" stroke-width="4.45" fill="none" stroke-linecap="butt"/>
<path d="M958.5 1112L966 1105.5L974 1113.5L966.5 1121.5Z" fill="#2a2927" stroke="#2a2927" stroke-width="3.75" stroke-linejoin="round" stroke-linecap="butt" />
<path d="M962.5 1111L967 1115.8" fill="none" stroke="#fff" stroke-width="1.5" stroke-linejoin="round" stroke-linecap="butt" />
<path d="M966.8 1122L966.8 1147" stroke="#2a2927" stroke-width="3.75" fill="none" stroke-linecap="butt"/>
<rect x="896.6" y="1152.5" width="80.9" height="9.5" fill="#2a2927" stroke="none" stroke-width="0" rx="3"/>
<rect x="893.8" y="1160.5" width="86" height="6.7" fill="#2a2927" stroke="none" stroke-width="0" rx="2"/>
<rect x="897.8" y="1165.8" width="82.4" height="40.9" fill="#fff" stroke="#2a2927" stroke-width="5.95" rx="2"/>
<rect x="895" y="1201.7" width="88" height="7.8" fill="#2a2927" stroke="none" stroke-width="0" rx="2"/>
<path d="M941 1180L941 1202" stroke="#1c1c1c" stroke-width="1.95" fill="none" stroke-linecap="butt"/>
<path d="M983.5 1153L983.5 1177" stroke="#2a2927" stroke-width="3.95" fill="none" stroke-linecap="butt"/>
<rect x="972" y="1175.4" width="38.8" height="7.6" fill="#2a2927" stroke="none" stroke-width="0" rx="3"/>
<path transform="translate(317.7 52.9)" d="M16.2 -26.8H5.2L2.28 -14.67A8.1 8.1 0 1 1 0.79 -6.22" fill="none" stroke="#1c1c1c" stroke-width="2.45" stroke-linejoin="miter" stroke-miterlimit="6" vector-effect="non-scaling-stroke"/>
<path transform="translate(338 52.9)" d="M1.15 -14A8.25 12.85 0 1 0 17.65 -14A8.25 12.85 0 1 0 1.15 -14Z" fill="none" stroke="#1c1c1c" stroke-width="2.45" stroke-linejoin="miter" stroke-miterlimit="6" vector-effect="non-scaling-stroke"/>
<path transform="translate(358.2 52.9)" d="M14 0V-26.6L1.9 -8.4H19" fill="none" stroke="#1c1c1c" stroke-width="2.45" stroke-linejoin="miter" stroke-miterlimit="6" vector-effect="non-scaling-stroke"/>
<path transform="translate(389.6 52.9)" d="M1.1 0.3L7.1 -18.2L15.1 -3.0L23.1 -18.2L29.1 0.3" fill="none" stroke="#1c1c1c" stroke-width="2.45" stroke-linejoin="miter" stroke-miterlimit="6" vector-effect="non-scaling-stroke"/>
<path transform="translate(423 52.9)" d="M1.1 0.3L7.1 -18.2L15.1 -3.0L23.1 -18.2L29.1 0.3" fill="none" stroke="#1c1c1c" stroke-width="2.45" stroke-linejoin="miter" stroke-miterlimit="6" vector-effect="non-scaling-stroke"/>
<path transform="translate(318.2 104.6)" d="M2.6 -23.07A5.75 5.75 0 1 1 7 -15.44M7.02 -15.23A7.05 7.05 0 1 1 1.1 -6.78" fill="none" stroke="#1c1c1c" stroke-width="2.45" stroke-linejoin="miter" stroke-miterlimit="6" vector-effect="non-scaling-stroke"/>
<path transform="translate(337.9 104.6)" d="M16.2 -26.8H5.2L2.28 -14.67A8.1 8.1 0 1 1 0.79 -6.22" fill="none" stroke="#1c1c1c" stroke-width="2.45" stroke-linejoin="miter" stroke-miterlimit="6" vector-effect="non-scaling-stroke"/>
<path transform="translate(357.5 104.6)" d="M1.15 -14A8.25 12.85 0 1 0 17.65 -14A8.25 12.85 0 1 0 1.15 -14Z" fill="none" stroke="#1c1c1c" stroke-width="2.45" stroke-linejoin="miter" stroke-miterlimit="6" vector-effect="non-scaling-stroke"/>
<path transform="translate(389.6 104.6)" d="M1.1 0.3L7.1 -18.2L15.1 -3.0L23.1 -18.2L29.1 0.3" fill="none" stroke="#1c1c1c" stroke-width="2.45" stroke-linejoin="miter" stroke-miterlimit="6" vector-effect="non-scaling-stroke"/>
<path transform="translate(423 104.6)" d="M1.1 0.3L7.1 -18.2L15.1 -3.0L23.1 -18.2L29.1 0.3" fill="none" stroke="#1c1c1c" stroke-width="2.45" stroke-linejoin="miter" stroke-miterlimit="6" vector-effect="non-scaling-stroke"/>
<path transform="translate(366.3 167.8)" d="M0 -26.8H15.3L2.6 0" fill="none" stroke="#1c1c1c" stroke-width="2.45" stroke-linejoin="miter" stroke-miterlimit="6" vector-effect="non-scaling-stroke"/>
<path transform="translate(386.2 167.8)" d="M1.15 -14A8.25 12.85 0 1 0 17.65 -14A8.25 12.85 0 1 0 1.15 -14Z" fill="none" stroke="#1c1c1c" stroke-width="2.45" stroke-linejoin="miter" stroke-miterlimit="6" vector-effect="non-scaling-stroke"/>
<path transform="translate(627.1 130.5) scale(0.985 0.955)" d="M0 -26.8H5.5V0" fill="none" stroke="#1c1c1c" stroke-width="2.45" stroke-linejoin="miter" stroke-miterlimit="6" vector-effect="non-scaling-stroke"/>
<path transform="translate(644.6 130.5) scale(0.985 0.955)" d="M12.4 -28L2.28 -12.43M1.1 -8.45A7.3 7.3 0 1 0 15.7 -8.45A7.3 7.3 0 1 0 1.1 -8.45Z" fill="none" stroke="#1c1c1c" stroke-width="2.45" stroke-linejoin="miter" stroke-miterlimit="6" vector-effect="non-scaling-stroke"/>
<path transform="translate(664.3 130.5) scale(0.985 0.955)" d="M16.2 -26.8H5.2L2.28 -14.67A8.1 8.1 0 1 1 0.79 -6.22" fill="none" stroke="#1c1c1c" stroke-width="2.45" stroke-linejoin="miter" stroke-miterlimit="6" vector-effect="non-scaling-stroke"/>
<path transform="translate(684.9 130.5) scale(0.985 0.955)" d="M0 -10H9.8" fill="none" stroke="#1c1c1c" stroke-width="2.45" stroke-linejoin="miter" stroke-miterlimit="6" vector-effect="non-scaling-stroke"/>
<path transform="translate(697.5 130.5) scale(0.985 0.955)" d="M1.17 -18.67A7.65 7.65 0 1 1 14.22 -13.8L1.6 -1.15H17.6" fill="none" stroke="#1c1c1c" stroke-width="2.45" stroke-linejoin="miter" stroke-miterlimit="6" vector-effect="non-scaling-stroke"/>
<path transform="translate(718.8 130.5) scale(0.985 0.955)" d="M2.6 -23.07A5.75 5.75 0 1 1 7 -15.44M7.02 -15.23A7.05 7.05 0 1 1 1.1 -6.78" fill="none" stroke="#1c1c1c" stroke-width="2.45" stroke-linejoin="miter" stroke-miterlimit="6" vector-effect="non-scaling-stroke"/>
<path transform="translate(739 130.5) scale(0.985 0.955)" d="M16.2 -26.8H5.2L2.28 -14.67A8.1 8.1 0 1 1 0.79 -6.22" fill="none" stroke="#1c1c1c" stroke-width="2.45" stroke-linejoin="miter" stroke-miterlimit="6" vector-effect="non-scaling-stroke"/>
<path transform="translate(769 130.5) scale(0.985 0.955)" d="M1.1 0.3L7.1 -18.2L15.1 -3.0L23.1 -18.2L29.1 0.3" fill="none" stroke="#1c1c1c" stroke-width="2.45" stroke-linejoin="miter" stroke-miterlimit="6" vector-effect="non-scaling-stroke"/>
<path transform="translate(802.5 130.5) scale(0.985 0.955)" d="M1.1 0.3L7.1 -18.2L15.1 -3.0L23.1 -18.2L29.1 0.3" fill="none" stroke="#1c1c1c" stroke-width="2.45" stroke-linejoin="miter" stroke-miterlimit="6" vector-effect="non-scaling-stroke"/>
<path transform="translate(1085.2 130.8) scale(0.985 0.962)" d="M1.17 -18.67A7.65 7.65 0 1 1 14.22 -13.8L1.6 -1.15H17.6" fill="none" stroke="#1c1c1c" stroke-width="2.45" stroke-linejoin="miter" stroke-miterlimit="6" vector-effect="non-scaling-stroke"/>
<path transform="translate(1107.2 130.8) scale(0.985 0.962)" d="M16.2 -26.8H5.2L2.28 -14.67A8.1 8.1 0 1 1 0.79 -6.22" fill="none" stroke="#1c1c1c" stroke-width="2.45" stroke-linejoin="miter" stroke-miterlimit="6" vector-effect="non-scaling-stroke"/>
<path transform="translate(1126.9 130.8) scale(0.985 0.962)" d="M0 -10H9.8" fill="none" stroke="#1c1c1c" stroke-width="2.45" stroke-linejoin="miter" stroke-miterlimit="6" vector-effect="non-scaling-stroke"/>
<path transform="translate(1139.3 130.8) scale(0.985 0.962)" d="M4.6 0L14.72 -15.57M1.3 -19.55A7.3 7.3 0 1 0 15.9 -19.55A7.3 7.3 0 1 0 1.3 -19.55Z" fill="none" stroke="#1c1c1c" stroke-width="2.45" stroke-linejoin="miter" stroke-miterlimit="6" vector-effect="non-scaling-stroke"/>
<path transform="translate(1159.8 130.8) scale(0.985 0.962)" d="M1.15 -14A8.25 12.85 0 1 0 17.65 -14A8.25 12.85 0 1 0 1.15 -14Z" fill="none" stroke="#1c1c1c" stroke-width="2.45" stroke-linejoin="miter" stroke-miterlimit="6" vector-effect="non-scaling-stroke"/>
<path transform="translate(1191.2 130.8) scale(0.985 0.962)" d="M1.1 0.3L7.1 -18.2L15.1 -3.0L23.1 -18.2L29.1 0.3" fill="none" stroke="#1c1c1c" stroke-width="2.45" stroke-linejoin="miter" stroke-miterlimit="6" vector-effect="non-scaling-stroke"/>
<path transform="translate(1224.1 130.8) scale(0.985 0.962)" d="M1.1 0.3L7.1 -18.2L15.1 -3.0L23.1 -18.2L29.1 0.3" fill="none" stroke="#1c1c1c" stroke-width="2.45" stroke-linejoin="miter" stroke-miterlimit="6" vector-effect="non-scaling-stroke"/>
<path transform="translate(793.4 326.4) scale(1 0.97)" d="M24.39 -22A13 13 0 1 0 27.05 -12.4H17.3" fill="none" stroke="#1c1c1c" stroke-width="2.45" stroke-linejoin="miter" stroke-miterlimit="6" vector-effect="non-scaling-stroke"/>
<path transform="translate(840.6 326.4) scale(1 0.97)" d="M0 -26.8H5.5V0" fill="none" stroke="#1c1c1c" stroke-width="2.45" stroke-linejoin="miter" stroke-miterlimit="6" vector-effect="non-scaling-stroke"/>
<path transform="translate(857 326.4) scale(1 0.97)" d="M1.4 2.9L11.6 -28" fill="none" stroke="#1c1c1c" stroke-width="2.45" stroke-linejoin="miter" stroke-miterlimit="6" vector-effect="non-scaling-stroke"/>
<path transform="translate(873.9 326.4) scale(1 0.97)" d="M1.17 -18.67A7.65 7.65 0 1 1 14.22 -13.8L1.6 -1.15H17.6" fill="none" stroke="#1c1c1c" stroke-width="2.45" stroke-linejoin="miter" stroke-miterlimit="6" vector-effect="non-scaling-stroke"/>
<path transform="translate(589.8 776.9) scale(1 0.972)" d="M1.17 -18.67A7.65 7.65 0 1 1 14.22 -13.8L1.6 -1.15H17.6" fill="none" stroke="#1c1c1c" stroke-width="2.45" stroke-linejoin="miter" stroke-miterlimit="6" vector-effect="non-scaling-stroke"/>
<path transform="translate(611.4 776.9) scale(1 0.972)" d="M2.6 -23.07A5.75 5.75 0 1 1 7 -15.44M7.02 -15.23A7.05 7.05 0 1 1 1.1 -6.78" fill="none" stroke="#1c1c1c" stroke-width="2.45" stroke-linejoin="miter" stroke-miterlimit="6" vector-effect="non-scaling-stroke"/>
<path transform="translate(631.1 776.9) scale(1 0.972)" d="M1.15 -14A8.25 12.85 0 1 0 17.65 -14A8.25 12.85 0 1 0 1.15 -14Z" fill="none" stroke="#1c1c1c" stroke-width="2.45" stroke-linejoin="miter" stroke-miterlimit="6" vector-effect="non-scaling-stroke"/>
<path transform="translate(661.8 776.9) scale(1 0.972)" d="M1.1 0.3L7.1 -18.2L15.1 -3.0L23.1 -18.2L29.1 0.3" fill="none" stroke="#1c1c1c" stroke-width="2.45" stroke-linejoin="miter" stroke-miterlimit="6" vector-effect="non-scaling-stroke"/>
<path transform="translate(695.1 776.9) scale(1 0.972)" d="M1.1 0.3L7.1 -18.2L15.1 -3.0L23.1 -18.2L29.1 0.3" fill="none" stroke="#1c1c1c" stroke-width="2.45" stroke-linejoin="miter" stroke-miterlimit="6" vector-effect="non-scaling-stroke"/>
<path transform="translate(593.5 836.6) scale(1 0.985)" d="M0 -26.8H5.5V0" fill="none" stroke="#1c1c1c" stroke-width="2.45" stroke-linejoin="miter" stroke-miterlimit="6" vector-effect="non-scaling-stroke"/>
<path transform="translate(610.8 836.6) scale(1 0.985)" d="M2.9 -21.3A5.5 5.55 0 1 0 13.9 -21.3A5.5 5.55 0 1 0 2.9 -21.3ZM1.15 -8.45A7.25 7.3 0 1 0 15.65 -8.45A7.25 7.3 0 1 0 1.15 -8.45Z" fill="none" stroke="#1c1c1c" stroke-width="2.45" stroke-linejoin="miter" stroke-miterlimit="6" vector-effect="non-scaling-stroke"/>
<path transform="translate(631.1 836.6) scale(1 0.985)" d="M1.15 -14A8.25 12.85 0 1 0 17.65 -14A8.25 12.85 0 1 0 1.15 -14Z" fill="none" stroke="#1c1c1c" stroke-width="2.45" stroke-linejoin="miter" stroke-miterlimit="6" vector-effect="non-scaling-stroke"/>
<path transform="translate(661.8 836.6) scale(1 0.985)" d="M1.1 0.3L7.1 -18.2L15.1 -3.0L23.1 -18.2L29.1 0.3" fill="none" stroke="#1c1c1c" stroke-width="2.45" stroke-linejoin="miter" stroke-miterlimit="6" vector-effect="non-scaling-stroke"/>
<path transform="translate(695.1 836.6) scale(1 0.985)" d="M1.1 0.3L7.1 -18.2L15.1 -3.0L23.1 -18.2L29.1 0.3" fill="none" stroke="#1c1c1c" stroke-width="2.45" stroke-linejoin="miter" stroke-miterlimit="6" vector-effect="non-scaling-stroke"/>
<path transform="translate(1026.8 1255.4) scale(1 0.985)" d="M2.9 -21.3A5.5 5.55 0 1 0 13.9 -21.3A5.5 5.55 0 1 0 2.9 -21.3ZM1.15 -8.45A7.25 7.3 0 1 0 15.65 -8.45A7.25 7.3 0 1 0 1.15 -8.45Z" fill="none" stroke="#1c1c1c" stroke-width="2.45" stroke-linejoin="miter" stroke-miterlimit="6" vector-effect="non-scaling-stroke"/>
<path transform="translate(1047.3 1255.4) scale(1 0.985)" d="M0 -26.8H15.3L2.6 0" fill="none" stroke="#1c1c1c" stroke-width="2.45" stroke-linejoin="miter" stroke-miterlimit="6" vector-effect="non-scaling-stroke"/>
<path transform="translate(1079 1255.4) scale(1 0.985)" d="M1.1 0.3L7.1 -18.2L15.1 -3.0L23.1 -18.2L29.1 0.3" fill="none" stroke="#1c1c1c" stroke-width="2.45" stroke-linejoin="miter" stroke-miterlimit="6" vector-effect="non-scaling-stroke"/>
<path transform="translate(1112.3 1255.4) scale(1 0.985)" d="M1.1 0.3L7.1 -18.2L15.1 -3.0L23.1 -18.2L29.1 0.3" fill="none" stroke="#1c1c1c" stroke-width="2.45" stroke-linejoin="miter" stroke-miterlimit="6" vector-effect="non-scaling-stroke"/>
<path transform="translate(75.5 220.7) rotate(-90)" d="M16.2 -26.8H5.2L2.28 -14.67A8.1 8.1 0 1 1 0.79 -6.22" fill="none" stroke="#1c1c1c" stroke-width="2.45" stroke-linejoin="miter" stroke-miterlimit="6" vector-effect="non-scaling-stroke"/>
<path transform="translate(75.5 200.3) rotate(-90)" d="M1.15 -14A8.25 12.85 0 1 0 17.65 -14A8.25 12.85 0 1 0 1.15 -14Z" fill="none" stroke="#1c1c1c" stroke-width="2.45" stroke-linejoin="miter" stroke-miterlimit="6" vector-effect="non-scaling-stroke"/>
<path transform="translate(75.5 178.7) rotate(-90)" d="M0 -10H9.8" fill="none" stroke="#1c1c1c" stroke-width="2.45" stroke-linejoin="miter" stroke-miterlimit="6" vector-effect="non-scaling-stroke"/>
<path transform="translate(75.5 165.9) rotate(-90)" d="M1.17 -18.67A7.65 7.65 0 1 1 14.22 -13.8L1.6 -1.15H17.6" fill="none" stroke="#1c1c1c" stroke-width="2.45" stroke-linejoin="miter" stroke-miterlimit="6" vector-effect="non-scaling-stroke"/>
<path transform="translate(75.5 146.2) rotate(-90)" d="M1.15 -14A8.25 12.85 0 1 0 17.65 -14A8.25 12.85 0 1 0 1.15 -14Z" fill="none" stroke="#1c1c1c" stroke-width="2.45" stroke-linejoin="miter" stroke-miterlimit="6" vector-effect="non-scaling-stroke"/>
<path transform="translate(75.5 125) rotate(-90)" d="M1.15 -14A8.25 12.85 0 1 0 17.65 -14A8.25 12.85 0 1 0 1.15 -14Z" fill="none" stroke="#1c1c1c" stroke-width="2.45" stroke-linejoin="miter" stroke-miterlimit="6" vector-effect="non-scaling-stroke"/>
<path transform="translate(75.5 94.4) rotate(-90)" d="M1.1 0.3L7.1 -18.2L15.1 -3.0L23.1 -18.2L29.1 0.3" fill="none" stroke="#1c1c1c" stroke-width="2.45" stroke-linejoin="miter" stroke-miterlimit="6" vector-effect="non-scaling-stroke"/>
<path transform="translate(75.5 61.2) rotate(-90)" d="M1.1 0.3L7.1 -18.2L15.1 -3.0L23.1 -18.2L29.1 0.3" fill="none" stroke="#1c1c1c" stroke-width="2.45" stroke-linejoin="miter" stroke-miterlimit="6" vector-effect="non-scaling-stroke"/>
<path transform="translate(85.4 861.7) rotate(-90)" d="M0 -26.8H5.5V0" fill="none" stroke="#1c1c1c" stroke-width="2.45" stroke-linejoin="miter" stroke-miterlimit="6" vector-effect="non-scaling-stroke"/>
<path transform="translate(85.4 841.1) rotate(-90)" d="M0 -26.8H5.5V0" fill="none" stroke="#1c1c1c" stroke-width="2.45" stroke-linejoin="miter" stroke-miterlimit="6" vector-effect="non-scaling-stroke"/>
<path transform="translate(85.4 822.3) rotate(-90)" d="M12.4 -28L2.28 -12.43M1.1 -8.45A7.3 7.3 0 1 0 15.7 -8.45A7.3 7.3 0 1 0 1.1 -8.45Z" fill="none" stroke="#1c1c1c" stroke-width="2.45" stroke-linejoin="miter" stroke-miterlimit="6" vector-effect="non-scaling-stroke"/>
<path transform="translate(85.4 802.6) rotate(-90)" d="M1.15 -14A8.25 12.85 0 1 0 17.65 -14A8.25 12.85 0 1 0 1.15 -14Z" fill="none" stroke="#1c1c1c" stroke-width="2.45" stroke-linejoin="miter" stroke-miterlimit="6" vector-effect="non-scaling-stroke"/>
<path transform="translate(85.4 780.8) rotate(-90)" d="M0 -10H9.8" fill="none" stroke="#1c1c1c" stroke-width="2.45" stroke-linejoin="miter" stroke-miterlimit="6" vector-effect="non-scaling-stroke"/>
<path transform="translate(85.4 765.2) rotate(-90)" d="M0 -26.8H5.5V0" fill="none" stroke="#1c1c1c" stroke-width="2.45" stroke-linejoin="miter" stroke-miterlimit="6" vector-effect="non-scaling-stroke"/>
<path transform="translate(85.4 749) rotate(-90)" d="M2.6 -23.07A5.75 5.75 0 1 1 7 -15.44M7.02 -15.23A7.05 7.05 0 1 1 1.1 -6.78" fill="none" stroke="#1c1c1c" stroke-width="2.45" stroke-linejoin="miter" stroke-miterlimit="6" vector-effect="non-scaling-stroke"/>
<path transform="translate(85.4 729) rotate(-90)" d="M12.4 -28L2.28 -12.43M1.1 -8.45A7.3 7.3 0 1 0 15.7 -8.45A7.3 7.3 0 1 0 1.1 -8.45Z" fill="none" stroke="#1c1c1c" stroke-width="2.45" stroke-linejoin="miter" stroke-miterlimit="6" vector-effect="non-scaling-stroke"/>
<path transform="translate(85.4 708.1) rotate(-90)" d="M1.15 -14A8.25 12.85 0 1 0 17.65 -14A8.25 12.85 0 1 0 1.15 -14Z" fill="none" stroke="#1c1c1c" stroke-width="2.45" stroke-linejoin="miter" stroke-miterlimit="6" vector-effect="non-scaling-stroke"/>
<path transform="translate(85.4 677) rotate(-90)" d="M1.1 0.3L7.1 -18.2L15.1 -3.0L23.1 -18.2L29.1 0.3" fill="none" stroke="#1c1c1c" stroke-width="2.45" stroke-linejoin="miter" stroke-miterlimit="6" vector-effect="non-scaling-stroke"/>
<path transform="translate(85.4 643.8) rotate(-90)" d="M1.1 0.3L7.1 -18.2L15.1 -3.0L23.1 -18.2L29.1 0.3" fill="none" stroke="#1c1c1c" stroke-width="2.45" stroke-linejoin="miter" stroke-miterlimit="6" vector-effect="non-scaling-stroke"/>
<path transform="translate(647.2 986.5) rotate(-90) scale(1 0.98)" d="M0 -26.8H5.5V0" fill="none" stroke="#1c1c1c" stroke-width="2.45" stroke-linejoin="miter" stroke-miterlimit="6" vector-effect="non-scaling-stroke"/>
<path transform="translate(647.2 970.2) rotate(-90) scale(1 0.98)" d="M2.6 -23.07A5.75 5.75 0 1 1 7 -15.44M7.02 -15.23A7.05 7.05 0 1 1 1.1 -6.78" fill="none" stroke="#1c1c1c" stroke-width="2.45" stroke-linejoin="miter" stroke-miterlimit="6" vector-effect="non-scaling-stroke"/>
<path transform="translate(647.2 948.5) rotate(-90) scale(1 0.98)" d="M16.2 -26.8H5.2L2.28 -14.67A8.1 8.1 0 1 1 0.79 -6.22" fill="none" stroke="#1c1c1c" stroke-width="2.45" stroke-linejoin="miter" stroke-miterlimit="6" vector-effect="non-scaling-stroke"/>
<path transform="translate(647.1 1125.8) rotate(-90) scale(1 0.99)" d="M1.17 -18.67A7.65 7.65 0 1 1 14.22 -13.8L1.6 -1.15H17.6" fill="none" stroke="#1c1c1c" stroke-width="2.45" stroke-linejoin="miter" stroke-miterlimit="6" vector-effect="non-scaling-stroke"/>
<path transform="translate(647.1 1105.4) rotate(-90) scale(1 0.99)" d="M1.17 -18.67A7.65 7.65 0 1 1 14.22 -13.8L1.6 -1.15H17.6" fill="none" stroke="#1c1c1c" stroke-width="2.45" stroke-linejoin="miter" stroke-miterlimit="6" vector-effect="non-scaling-stroke"/>
<path transform="translate(647.1 1084.6) rotate(-90) scale(1 0.99)" d="M1.15 -14A8.25 12.85 0 1 0 17.65 -14A8.25 12.85 0 1 0 1.15 -14Z" fill="none" stroke="#1c1c1c" stroke-width="2.45" stroke-linejoin="miter" stroke-miterlimit="6" vector-effect="non-scaling-stroke"/>
</svg></body></html>
